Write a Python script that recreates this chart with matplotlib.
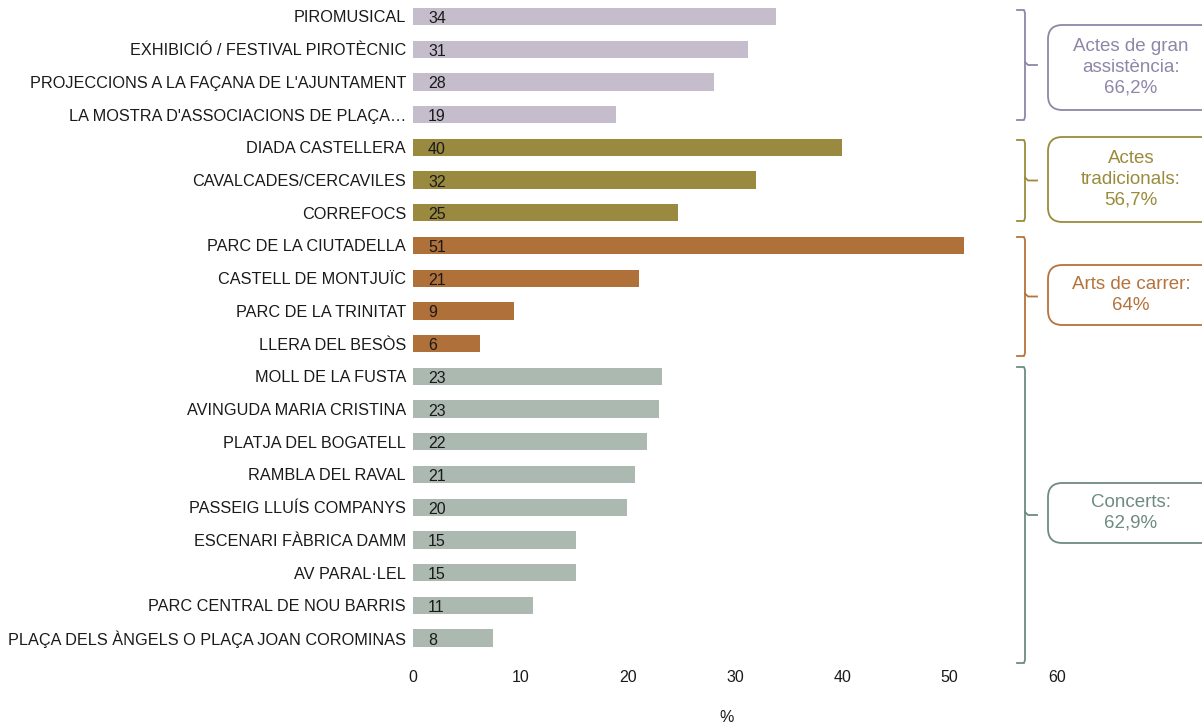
import matplotlib
matplotlib.use("Agg")
import matplotlib.pyplot as plt
from matplotlib.patches import FancyBboxPatch
from matplotlib.lines import Line2D

plt.rcParams['font.family'] = ['Liberation Sans', 'DejaVu Sans']

categories = [
    "PIROMUSICAL", "EXHIBICIÓ / FESTIVAL PIROTÈCNIC",
    "PROJECCIONS A LA FAÇANA DE L'AJUNTAMENT", "LA MOSTRA D'ASSOCIACIONS DE PLAÇA…",
    "DIADA CASTELLERA", "CAVALCADES/CERCAVILES", "CORREFOCS",
    "PARC DE LA CIUTADELLA", "CASTELL DE MONTJUÏC", "PARC DE LA TRINITAT", "LLERA DEL BESÒS",
    "MOLL DE LA FUSTA", "AVINGUDA MARIA CRISTINA", "PLATJA DEL BOGATELL", "RAMBLA DEL RAVAL",
    "PASSEIG LLUÍS COMPANYS", "ESCENARI FÀBRICA DAMM", "AV PARAL·LEL",
    "PARC CENTRAL DE NOU BARRIS", "PLAÇA DELS ÀNGELS O PLAÇA JOAN COROMINAS",
]
values = [33.8, 31.2, 28.0, 18.9,
          40.0, 32.0, 24.7,
          51.3, 21.1, 9.4, 6.2,
          23.2, 22.9, 21.8, 20.7, 19.9, 15.2, 15.2, 11.2, 7.5]
groups = [0]*4 + [1]*3 + [2]*4 + [3]*9
group_names = ["Actes de gran\nassistència:\n66,2%", "Actes\ntradicionals:\n56,7%",
               "Arts de carrer:\n64%", "Concerts:\n62,9%"]
bar_colors = ["#C5BDCC", "#998A40", "#B07039", "#ACB9B1"]
text_colors = ["#8F86A8", "#9A8B3C", "#B5733C", "#6F8B80"]
xticks = [0, 10, 20, 30, 40, 50, 60]

W, H = 1202, 726
fig = plt.figure(figsize=(W/100, H/100), dpi=100)
top_px, bot_px = 0.13, 654.4
ax = fig.add_axes([413/W, 1 - bot_px/H, (1057-413)/W, (bot_px-top_px)/H])

n = len(categories)
ypos = list(range(n))
ax.barh(ypos, values, height=0.53, color=[bar_colors[g] for g in groups])
for y, v in zip(ypos, values):
    ax.text(1.4, y + 0.06, f"{round(v):.0f}", va='center', ha='left', fontsize=11.5, color='#1a1a1a')
ax.set_yticks(ypos)
ax.set_yticklabels(categories, fontsize=11.7, color='#1a1a1a')
ax.set_ylim(n - 0.5, -0.5)
ax.set_xlim(0, 60)
ax.set_xticks(xticks)
ax.set_xticklabels([str(t) for t in xticks], fontsize=11.5, color='#1a1a1a')
ax.tick_params(axis='y', length=0, pad=5)
ax.tick_params(axis='x', length=0, pad=11)
for s in ax.spines.values():
    s.set_visible(False)

def fx(px):
    return px / W

def fy(py):
    return 1 - py / H

fig.text(fx(727), fy(718), "%", ha='center', va='center', fontsize=11.5, color='#1a1a1a')

# bracket y-ranges (pixels) and boxes (pixels)
brackets = [(10, 120), (140, 221), (237, 356), (367, 663)]
boxes = [(25, 110), (137, 222), (265, 325), (483, 543)]
for g in range(4):
    c = text_colors[g]
    y0, y1 = brackets[g]
    ym = (y0 + y1) / 2
    fig.add_artist(Line2D([fx(1017), fx(1024), fx(1025), fx(1025), fx(1024), fx(1017)],
                          [fy(y0), fy(y0), fy(y0 + 3), fy(y1 - 3), fy(y1), fy(y1)],
                          color=c, lw=1.3, transform=fig.transFigure))
    fig.add_artist(Line2D([fx(1025), fx(1028), fx(1037)], [fy(ym - 3), fy(ym), fy(ym)],
                          color=c, lw=1.3, transform=fig.transFigure))
    b0, b1 = boxes[g]
    box = FancyBboxPatch((fx(1048), fy(b1)), fx(200), (b1 - b0) / H,
                         boxstyle="round,pad=0,rounding_size=0.012",
                         transform=fig.transFigure, fill=False, ec=c, lw=1.3,
                         mutation_aspect=W / H)
    fig.add_artist(box)
    fig.text(fx(1131), fy((b0 + b1) / 2), group_names[g], ha='center', va='center',
             fontsize=13.5, color=c, linespacing=1.3)

fig.savefig("out.png", dpi=100)
